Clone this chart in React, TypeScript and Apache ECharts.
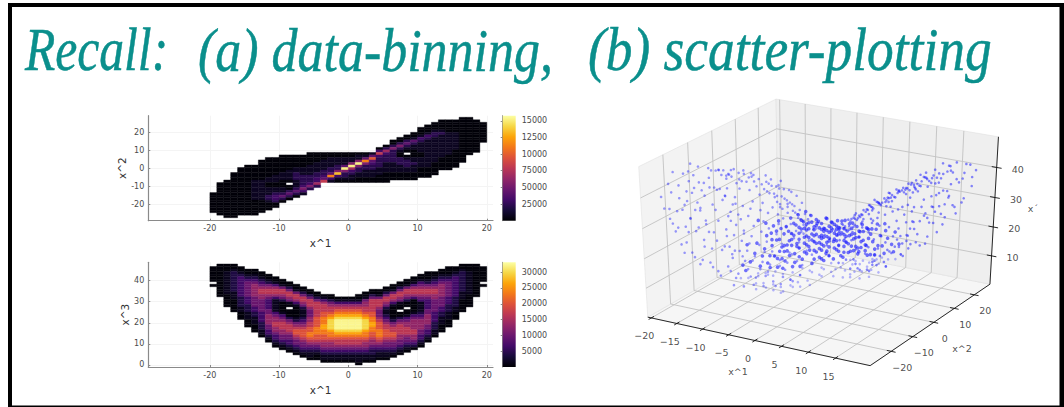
import React, { useEffect, useRef } from "react";
import * as echarts from "echarts";

const titleParts = ["Recall:", "(a) data-binning,", "(b) scatter-plotting"];
const infernoStops = ["#000004", "#160b39", "#420a68", "#6a176e", "#932667", "#bc3754", "#dd513a", "#f37819", "#fca50a", "#f6d746", "#fcffa4"];

// x^1 / x^2 histogram: one string per 1-wide x bin, read top row to bottom row. "." = empty bin.
const topFirstRow = [30, 26, 25, 22, 20, 19, 19, 17, 16, 16, 15, 15, 15, 15, 14, 14, 14, 14, 14, 14, 14, 14, 14, 14, 12, 11, 9, 8, 7, 6, 4, 3, 2, 1, 1, 1, 0, 0, 1, 2];
const topColumns = [
  "00000000", "0000000000000", "000000000000000", "000000000000000000", "0000000000000000000",
  "00000000000000000000", "00000011111111000000", "000000001111111100000", "000000001100111221000", "00000001110011233200",
  "0000000111000112420", "00000011110.002420", "00000112221112420", "0000011122223531", "000001111222352",
  "00001111223362", "000111122347", "001111224931", "00111225a310", "001114b52210",
  "00115b632110", "0115b5221100", "014952211100", "148432211100", "03732222111000",
  "026322211110000", "0025222221111000", "00252100222111000", "0024210.0122211000", "0014211000112111000",
  "00013211110011110000", "000132111111111110000", "000122111111111100000", "00001211111111100000", "00000111111111000000",
  "0000011111110000000", "000000000000000000", "000000000000000", "0000000000000", "00000000",
];
const topLevels: Record<string, number> = { "0": 1500, "1": 9000, "2": 23000, "3": 31000, "4": 42000, "5": 55000, "6": 68000, "7": 81000, "8": 97000, "9": 113000, a: 134000, b: 152000 };

// x^1 / x^3 histogram
const bottomFirstRow = [1, 0, 0, 0, 1, 2, 2, 3, 4, 5, 6, 7, 8, 9, 10, 11, 12, 12, 13, 13, 13, 12, 11, 10, 10, 9, 8, 7, 6, 5, 4, 3, 3, 2, 1, 1, 0, 0, 0, 1];
const bottomColumns = [
  "000000.0", "0000000000000", "00011111111100000", "0012222222211100000", "001233333333222211000",
  "00123444444333222111000", "0012345555544443322111000", "00123456655444443333222110", "001245665433334455554433210", "0013566531111134556655433210",
  "0014665420000134566655443210", "0024665410.00024566654433210", "0014665310000124567765443210", "0024665421112345677765443210", "0024666544455667788765432110",
  "002466666677778887765432100", "013566677888998877655432110", "0024566789aaaa9887655432110", "01356789abbbba987665432110", "01356789abbbba987665432110",
  "01356789abbbba987665432110", "001356789abbbba9876654321110", "00145566789aaaa9887655432110", "00246666677889988776554322110", "0014666544456777888765432110",
  "00246654211234566777654432110", "00146653100001245667765443210", "00246654100.00245666655443210", "00146654200.00134556665443210", "00135665300000134555566554320",
  "00134566543111123455554433210", "0001245665433334455554433210", "00123456655444443333222110", "0012345555544443322111000", "000123444444333222111000",
  "001233333333222211000", "0012222222211100000", "00011111111100000", "0000000000000", "000000.0",
];
const bottomLevels: Record<string, number> = { "0": 350, "1": 1650, "2": 4000, "3": 6600, "4": 9900, "5": 13200, "6": 16500, "7": 19900, "8": 23200, "9": 26500, a: 29800, b: 32400 };

const xTicks = [-20, -10, 0, 10, 20];
const topYTicks = [-20, -10, 0, 10, 20];
const bottomYTicks = [0, 10, 20, 30, 40];
const topBarTicks = [25000, 50000, 75000, 100000, 125000, 150000];
const topBarLabels = ["25000", "50000", "75000", "10000", "12500", "15000"];
const bottomBarTicks = [5000, 10000, 15000, 20000, 25000, 30000];

// Scatter samples (x^1, x^2, x^3), flat triples.
const leftLobePoints = [
  -15,-14,42,-16,-12,44,-14,-16,40,-17,-16,43,-13,-9,41,-16,-18,40,-15,-10,43,-12,-7,39,-14,-11,42,-18,-20,41,-17,-22,38,-16,-23,35,-15,-22,32,-14,-21,29,-16,-21,37,-13,-19,27,-12,-18,24,-11,-17,22,-10,-15,20,-9,-14,18,
  -13,-20,30,-15,-19,36,-12,-5,38,-11,-3,36,-10,-2,35,-9,0,33,-8,1,32,-7,1,31,-6,2,29,-5,1,27,-4,1,25,-3,0,24,-2,1,23,-2,-2,17,-3,-4,14,-4,-7,12,-6,-11,11,-7,-13,11,-9,-16,13,-11,-20,15,-13,-22,19,
  -15,-24,25,-17,-25,31,-18,-24,35,-14,-24,22,-12,-21,18,-10,-18,16,-8,-14,14,-6,-9,14,-4,-5,17,-3,-3,20,-4,-2,23,-5,-2,25,-7,-1,29,-8,-1,31,-10,-4,34,-12,-8,37,-13,-11,38,-14,-13,38,-15,-16,37,-15,-18,33,
  -14,-18,30,-13,-17,26,-11,-15,21,-10,-13,19,-8,-11,17,-6,-8,18,-5,-6,20,-4,-4,23,-5,-4,25,-6,-3,27,-7,-3,28,-9,-5,32,-10,-7,33,-12,-10,35,-13,-13,35,-14,-15,34,-13,-15,29,-12,-14,26,-11,-13,24,-10,-12,22,
  -8,-9,20,-7,-8,21,-6,-6,23,-6,-5,26,-8,-5,29,-9,-6,30,-11,-9,32,-12,-11,33,-12,-13,30,-11,-12,27,-10,-11,25,-9,-10,23,-8,-8,24,-7,-7,25,-8,-7,27,-10,-9,29,-11,-11,30,-17,-14,45,-16,-9,42,-15,-6,40,
  -18,-18,44,-19,-22,42,-19,-25,39,-18,-26,36,-17,-24,28,-16,-24,24,-14,-23,20,-12,-20,16,-9,-17,12,-7,-14,9,-5,-10,9,-4,-8,10,-2,-4,13,-1,-2,16,-1,-1,20,-1,0,24,-3,2,27,-5,3,30,-7,3,33,-9,2,35,
  -11,1,38,-13,-4,41,-14,-7,42,-12,-2,39,-10,-8,31,-13,-16,33,-15,-20,34,-11,-16,25,-9,-12,19,-7,-10,15,-5,-7,15,-4,-3,21,-6,-1,28,-8,-3,30,-16,-16,41,-17,-19,39,-13,-12,36,-12,-12,31,-16,-20,31,-15,-23,28,
  -13,-21,23,-10,-16,18,-8,-12,16,-6,-10,12,-4,-6,14,-3,-1,22,-6,0,31,-9,-2,34,-11,-6,36,-14,-9,40,-16,-15,38,-19,-20,45,-18,-15,46,
  -14,-12,44,-12,-8,40,-13,-7,38,-16,-14,40,-15,-12,38,-17,-18,45,-16,-20,43,-18,-23,40,-17,-20,35,-18,-21,33,-16,-22,29,-15,-20,27,-14,-19,24,-13,-18,21,-12,-16,20,-11,-14,18,-10,-17,14,-9,-13,16,-8,-13,11,-7,-11,13,
  -10,-1,37,-9,-3,35,-8,-2,33,-7,-2,30,-6,-1,30,-5,0,28,-4,0,26,-3,-1,25,-3,-2,23,-2,-1,20,-3,-3,18,-4,-4,16,-5,-7,13,-6,-7,16,-7,-9,18,-9,-11,21,-10,-11,24,-11,-10,28,-9,-9,26,-12,-12,28,
  -14,-20,35,-15,-21,40,-13,-14,39,-12,-14,37,-11,-12,34,-16,-25,30,-17,-26,33,-15,-25,22,-13,-23,18,-11,-19,13,-9,-18,10,-8,-16,9,-6,-12,8,-5,-9,7,-4,-9,8,-3,-7,9,-3,-6,8,-2,-5,10,-13,-8,43,-11,-5,40,
  -13,-6,41,-12,-4,39,-11,-2,38,-10,0,36,-9,1,35,-8,2,34,-8,-1,33,-7,0,32,-9,-1,36,-10,-3,37,-11,-4,38,-12,-6,41,-6,1,30,-7,-2,31,-6,-1,31,-5,-1,29,-5,2,28,-4,2,27,-4,-1,27,-3,1,26,-10,1,37,-9,3,36,-8,0,35,-7,2,34,-6,3,32,-12,-3,40,-13,-10,42,-15,-13,44,-14,-9,41,-15,-8,42,
];
const rightLobePoints = [
  15,14,41,16,12,44,14,16,39,17,17,42,13,9,40,16,18,41,15,10,42,12,7,38,14,12,41,18,21,40,17,23,37,16,24,35,15,22,31,14,20,28,16,20,36,13,19,28,12,18,25,11,16,21,10,15,19,9,13,18,
  13,21,31,15,19,34,12,4,37,11,2,36,10,3,35,9,1,34,8,-1,32,7,-1,30,6,-2,28,5,-1,26,4,-1,24,3,0,23,2,-1,22,2,3,18,3,4,13,4,6,11,6,10,11,7,12,10,9,15,12,11,19,14,13,22,18,
  15,25,26,17,24,30,18,25,34,14,23,23,12,20,17,10,17,15,8,13,13,6,10,13,4,6,16,3,4,19,4,1,22,5,2,24,7,1,28,8,2,31,10,5,33,12,9,36,13,10,39,14,14,37,15,15,38,15,17,34,
  14,17,29,13,16,27,11,14,22,10,12,20,8,10,18,6,7,17,5,5,21,4,3,24,5,3,26,6,4,27,7,2,29,9,4,31,10,6,34,12,11,34,13,12,36,14,16,33,13,14,30,12,13,25,11,12,25,10,11,23,
  8,8,21,7,7,20,6,7,22,6,4,25,8,4,28,9,7,29,11,8,31,12,10,32,12,12,29,11,11,28,10,10,26,9,9,24,8,7,25,7,6,26,8,6,28,10,8,30,11,10,31,17,13,46,16,8,43,15,5,41,
  18,17,45,19,21,43,19,24,40,18,25,37,17,23,29,16,23,25,14,22,21,12,19,15,9,16,11,7,13,8,5,9,8,4,7,9,2,3,12,1,1,15,1,0,19,1,-1,23,3,-2,26,5,-3,29,7,-2,32,9,-1,34,
  11,-1,37,13,3,40,14,6,41,12,1,38,10,7,32,13,15,32,15,21,33,11,15,24,9,11,20,7,9,16,5,8,14,4,4,20,6,0,27,8,3,29,16,15,40,17,20,38,13,11,37,12,13,30,16,19,32,15,24,27,
  13,20,22,10,15,17,8,11,15,6,9,11,4,5,13,3,1,21,6,-1,30,9,1,33,11,5,35,14,8,39,16,14,39,19,19,44,18,14,45,
  9,3,35,10,4,36,10,5,35,11,5,37,11,6,36,12,6,38,12,8,37,13,7,39,13,8,38,14,9,40,14,10,39,15,11,41,15,12,40,16,13,41,16,14,42,8,3,33,8,2,34,9,2,36,7,2,32,7,3,31,
  6,1,31,6,2,29,5,0,29,5,1,28,4,0,27,4,1,26,3,-1,25,3,1,24,10,6,37,11,7,38,12,10,39,13,13,41,14,13,42,15,13,39,16,16,41,17,16,44,17,18,41,15,8,40,14,7,38,13,5,40,
  12,16,24,13,17,25,14,18,27,14,21,25,15,20,29,11,13,20,10,13,17,9,12,16,12,15,20,13,18,23,9,14,15,8,12,14,7,10,13,6,9,10,11,17,16,10,16,14,6,11,9,5,10,7,4,8,8,3,6,9,
  8,4,32,9,5,33,9,4,34,10,7,35,11,8,37,12,9,38,13,11,40,14,11,40,8,1,33,7,1,31,7,0,31,6,0,30,6,3,29,5,3,28,5,-2,27,4,-2,26,10,2,35,11,3,37,12,5,38,13,6,39,11,4,38,9,0,35,10,1,36,
];
const centrePoints = [
  0,0,19,1,1,18,-1,-1,20,0,1,21,1,0,17,-1,0,16,2,2,20,-2,-2,19,3,4,21,-3,-4,20,2,3,16,-2,-3,17,0,-1,22,0,2,15,1,2,23,-1,-2,23,4,5,20,-4,-5,21,3,3,18,-3,-3,18,
  5,7,22,-5,-7,22,4,6,17,-4,-6,18,6,8,21,-6,-8,20,5,5,16,-5,-5,17,2,1,21,-2,-1,21,3,2,23,-3,-2,24,1,3,19,-1,-3,18,0,0,14,0,0,24,1,-1,25,-1,1,26,2,4,14,-2,-4,15,
  3,5,15,-3,-5,14,4,3,22,-4,-3,22,5,6,19,-5,-6,19,6,6,18,-6,-7,16,7,10,20,-7,-9,19,6,10,15,-6,-10,15,5,9,13,-5,-8,13,4,7,14,-4,-7,15,3,6,12,-3,-6,11,2,5,11,-2,-5,10,
  1,2,12,-1,-2,13,1,4,9,-1,-4,8,0,1,10,0,-1,9,2,6,8,-2,-6,8,3,8,7,-3,-7,7,4,9,7,-4,-9,7,5,11,7,-5,-10,8,6,12,9,-6,-12,9,7,14,10,-7,-13,9,8,14,13,-8,-15,14,
  0,0,17,1,1,21,-1,-1,17,1,0,20,-1,0,22,2,1,18,-2,-1,18,2,2,17,-2,-2,16,3,3,20,-3,-3,21,3,4,19,-3,-4,19,4,4,18,-4,-4,19,4,5,16,-4,-5,16,5,6,17,-5,-6,15,5,7,19,
  -5,-7,18,6,9,18,-6,-9,17,7,9,17,-7,-10,17,8,11,19,-8,-11,18,7,11,16,-7,-11,14,8,13,16,-8,-13,16,9,14,16,-9,-14,15,6,8,14,-6,-9,13,7,12,13,-7,-12,12,2,3,24,-2,-3,25,
  1,2,26,-1,-2,27,3,1,25,-3,-1,26,0,-2,27,0,2,27,4,2,24,-4,-2,25,5,3,23,-5,-3,23,6,3,24,-6,-4,24,7,4,25,-7,-5,25,8,6,26,-8,-6,26,9,7,26,-9,-7,27,1,3,13,-1,-3,11,
  2,4,10,-2,-4,12,3,7,10,-3,-7,9,4,8,10,-4,-8,11,5,10,10,-5,-10,11,6,11,11,-6,-11,12,0,1,13,0,-1,15,1,1,15,-1,-1,14,1,0,22,-1,0,19,0,1,18,0,-1,18,1,1,20,-1,-1,22,
  2,2,22,-2,-2,22,3,3,16,-3,-3,15,2,3,18,-2,-3,20,4,6,20,-4,-6,20,3,5,18,-3,-5,17,5,8,17,-5,-8,16,6,7,20,-6,-8,22,7,8,23,-7,-8,23,8,10,22,-8,-10,21,9,12,21,-9,-12,21,
  0,0,26,1,0,28,-1,0,27,2,0,27,-2,0,28,0,1,24,0,-1,25,1,1,25,-1,-1,25,2,1,26,-2,-1,26,3,0,28,-3,0,29,3,2,27,-3,-2,27,4,1,28,-4,-1,28,4,3,26,-4,-3,26,5,2,27,
  -5,-2,27,5,4,25,-5,-4,25,6,4,26,-6,-5,27,2,2,25,-2,-2,24,3,3,24,-3,-3,23,1,2,24,-1,-2,21,2,3,22,-2,-3,22,4,4,22,-4,-4,23,5,5,23,-5,-5,23,6,6,24,-6,-6,24,7,6,24,
  -7,-6,23,1,1,23,-1,-1,24,0,0,22,0,0,21,0,1,23,0,-1,20,1,0,24,-1,0,25,2,2,24,-2,-2,26,3,3,22,-3,-3,25,4,4,24,-4,-4,21,5,5,21,-5,-5,19,6,7,23,-6,-6,21,2,1,23,-2,-1,24,
  4,7,16,3,6,15,2,5,13,5,8,15,6,10,13,7,11,12,6,9,12,5,7,12,4,6,12,-5,-9,12,-4,-8,13,-3,-6,13,-2,-5,13,-6,-10,11,-7,-12,11,-5,-10,6,-4,-8,5,-3,-6,6,-6,-11,7,-7,-13,7,
  4,8,5,3,6,6,5,10,5,6,12,6,7,13,8,2,5,6,1,3,7,-1,-3,6,-8,-14,11,-9,-15,11,8,15,10,9,15,12,0,0,11,1,2,9,-1,-2,10,0,0,8,3,6,7,-2,-5,6,5,9,9,-4,-9,5,
];

// View of the 3D frame
const x1Lim = [-20.7, 21.3];
const x2Lim = [-29.5, 28];
const x3Lim = [0, 50];
const x1Ticks = [-20, -15, -10, -5, 0, 5, 10, 15];
const x2Ticks = [-20, -10, 0, 10, 20];
const x3Ticks = [10, 20, 30, 40];

function project(a: number, b: number, c: number): [number, number] {
  const u = (a - x1Lim[0]) / (x1Lim[1] - x1Lim[0]) - 0.5;
  const v = (b - x2Lim[0]) / (x2Lim[1] - x2Lim[0]) - 0.5;
  const w = (c - x3Lim[0]) / (x3Lim[1] - x3Lim[0]) - 0.5;
  const xv = 0.866 * u + 0.5 * v;
  const yv = -0.25 * u + 0.433 * v + 0.866 * w;
  const d = 10 - (0.433 * u - 0.75 * v + 0.5 * w);
  return [821.5 + (2567 * xv) / d, 227.8 - (1719 * yv) / d];
}

function cellsFrom(first: number[], columns: string[], levels: Record<string, number>, yTop: number, yStep: number) {
  const out: number[][] = [];
  columns.forEach((col, i) => {
    col.split("").forEach((ch, k) => {
      if (ch === ".") return;
      const row = first[i] + k;
      out.push([-20 + i, yTop - yStep * (row + 1), -19 + i, yTop - yStep * row, levels[ch]]);
    });
  });
  return out;
}

function triples(list: number[], keep: (z: number) => boolean = () => true) {
  const out: [number, number][] = [];
  for (let i = 0; i + 2 < list.length; i += 3) if (keep(list[i + 2])) out.push(project(list[i], list[i + 1], list[i + 2]));
  return out;
}

const GREY = "#8a8a8a";
const TXT = "#4a4a4a";

function heatSeries(name: string, axisIndex: number, data: number[][], max: number) {
  return {
    name, type: "custom", xAxisIndex: axisIndex, yAxisIndex: axisIndex, clip: false, silent: true,
    encode: { x: [0, 2], y: [1, 3] }, data,
    renderItem: (_: any, api: any) => {
      const p0 = api.coord([api.value(0), api.value(3)]);
      const p1 = api.coord([api.value(2), api.value(1)]);
      const c = echarts.color.lerp(Math.min(1, api.value(4) / max), infernoStops);
      return {
        type: "rect",
        shape: { x: p0[0], y: p0[1], width: p1[0] - p0[0], height: p1[1] - p0[1] },
        style: { fill: c, stroke: c, lineWidth: 0.4 },
      };
    },
  };
}

function barSeries(name: string, axisIndex: number, max: number) {
  return {
    name, type: "custom", xAxisIndex: axisIndex, yAxisIndex: axisIndex, silent: true,
    encode: { x: [0, 2], y: [1, 3] }, data: [[0, 0, 1, max]],
    renderItem: (_: any, api: any) => {
      const p0 = api.coord([0, max]);
      const p1 = api.coord([1, 0]);
      return {
        type: "rect",
        shape: { x: p0[0], y: p0[1], width: p1[0] - p0[0], height: p1[1] - p0[1] },
        style: {
          fill: new echarts.graphic.LinearGradient(0, 1, 0, 0, infernoStops.map((color, i) => ({ offset: i / (infernoStops.length - 1), color }))),
        },
      };
    },
  };
}

function plotAxes(gridIndex: number, xmin: number, xmax: number, ymin: number, ymax: number, yTicks: number[], yName: string) {
  const line = { show: true, onZero: false, lineStyle: { color: GREY, width: 1.2 } };
  const tick = (vals: number[]) => ({ show: true, inside: true, length: 2, lineStyle: { color: GREY }, customValues: vals });
  const split = { show: true, lineStyle: { color: "#f4f4f4", width: 1 } };
  return {
    x: {
      type: "value", gridIndex, min: xmin, max: xmax, axisLine: line, axisTick: tick(xTicks), splitLine: split,
      axisLabel: { customValues: xTicks, color: TXT, fontSize: 8, fontFamily: "DejaVu Sans", margin: 4 },
      name: "x^1", nameLocation: "middle", nameGap: 17, nameTextStyle: { fontSize: 10.5, color: "#333", fontFamily: "DejaVu Sans" },
    },
    y: {
      type: "value", gridIndex, min: ymin, max: ymax, axisLine: line, axisTick: tick(yTicks), splitLine: split,
      axisLabel: { customValues: yTicks, color: TXT, fontSize: 8, fontFamily: "DejaVu Sans", margin: 4 },
      name: yName, nameLocation: "middle", nameGap: 17, nameTextStyle: { fontSize: 10.5, color: "#333", fontFamily: "DejaVu Sans" },
    },
  };
}

function barAxes(gridIndex: number, max: number, ticks: number[], fmt: (v: number) => string) {
  return {
    x: { type: "value", gridIndex, min: 0, max: 1, show: false },
    y: {
      type: "value", gridIndex, min: 0, max, position: "right",
      axisLine: { show: true, lineStyle: { color: GREY, width: 1 } },
      axisTick: { show: true, inside: true, length: 2, lineStyle: { color: GREY }, customValues: ticks },
      splitLine: { show: false },
      axisLabel: { customValues: ticks, formatter: fmt, color: TXT, fontSize: 8, fontFamily: "DejaVu Sans", margin: 6 },
    },
  };
}

function paths3d() {
  const paths: [number, number][][] = [];
  const [a0, a1] = x1Lim, [b0, b1] = x2Lim, [c0, c1] = x3Lim;
  x1Ticks.forEach((t) => paths.push([project(t, b0, c0), project(t, b1, c0), project(t, b1, c1)]));
  x2Ticks.forEach((t) => paths.push([project(a1, t, c0), project(a0, t, c0), project(a0, t, c1)]));
  x3Ticks.forEach((t) => paths.push([project(a0, b0, t), project(a0, b1, t), project(a1, b1, t)]));
  return paths;
}

function polySeries(name: string, type: string, polys: [number, number][][], style: any) {
  return {
    name, type: "custom", xAxisIndex: 4, yAxisIndex: 4, silent: true, clip: false,
    data: polys.map((_, i) => [i]),
    encode: { x: [], y: [] },
    renderItem: (params: any, api: any) => ({
      type,
      shape: { points: polys[params.dataIndex].map((p) => api.coord(p)) },
      style: typeof style === "function" ? style(params.dataIndex) : style,
    }),
  };
}

function labelSeries(name: string, data: any[], offset: number[]) {
  return {
    name, type: "scatter", xAxisIndex: 4, yAxisIndex: 4, symbolSize: 0, silent: true, data,
    label: {
      show: true, position: "inside", offset, formatter: (p: any) => p.data[2],
      fontSize: 9.5, color: "#222", fontFamily: "DejaVu Sans",
    },
  };
}

function dotSeries(name: string, data: [number, number][], symbolSize: number, opacity: number) {
  return {
    name, type: "scatter", xAxisIndex: 4, yAxisIndex: 4, silent: true, symbolSize, data,
    itemStyle: { color: "#1414ff", opacity },
  };
}

const minus = (v: number) => String(v).replace("-", "\u2212");

function titleText(text: string, x: number, scaleX: number) {
  return {
    type: "text", x, y: 18.5, scaleX,
    style: { text, font: 'italic 62px "Liberation Serif"', fill: "#0a8f8c", stroke: "#0a8f8c", lineWidth: 0.5 },
  };
}

export default function App() {
  const ref = useRef<HTMLDivElement>(null);
  useEffect(() => {
    document.body.style.margin = "0";
    const chart = echarts.init(ref.current!, undefined, { renderer: "svg" });
    const a0 = plotAxes(0, -28.9, 20.9, -29.1, 29.2, topYTicks, "x^2");
    const a1 = barAxes(1, 157600, topBarTicks, (v) => topBarLabels[topBarTicks.indexOf(v)] ?? "");
    const a2 = plotAxes(2, -28.9, 20.9, -0.95, 48.7, bottomYTicks, "x^3");
    const a3 = barAxes(3, 33130, bottomBarTicks, (v) => String(v));
    const [l0, l1] = x1Lim, [m0, m1] = x2Lim, [n0, n1] = x3Lim;
    const walls: [number, number][][] = [
      [project(l0, m0, n0), project(l1, m0, n0), project(l1, m1, n0), project(l0, m1, n0)],
      [project(l0, m0, n0), project(l0, m1, n0), project(l0, m1, n1), project(l0, m0, n1)],
      [project(l0, m1, n0), project(l1, m1, n0), project(l1, m1, n1), project(l0, m1, n1)],
    ];
    const wallFills = ["#f6f6f6", "#f3f3f3", "#efefef"];
    const edges: [number, number][][] = [
      [project(l0, m0, n0), project(l1, m0, n0), project(l1, m1, n0), project(l1, m1, n1)],
      ...x1Ticks.map((t) => [project(t, m0 - 1.1, n0), project(t, m0 + 1.1, n0)] as [number, number][]),
      ...x2Ticks.map((t) => [project(l1 + 0.8, t, n0), project(l1 - 0.8, t, n0)] as [number, number][]),
      ...x3Ticks.map((t) => [project(l1 + 0.9, m1, t), project(l1 - 0.9, m1, t)] as [number, number][]),
    ];
    chart.setOption({
      animation: false,
      backgroundColor: "#fff",
      graphic: [
        { type: "rect", shape: { x: 8, y: 3, width: 1056, height: 4 }, style: { fill: "#000" } },
        { type: "rect", shape: { x: 8, y: 3, width: 4, height: 404 }, style: { fill: "#000" } },
        { type: "rect", shape: { x: 1059.5, y: 3, width: 4.5, height: 404 }, style: { fill: "#000" } },
        { type: "rect", shape: { x: 8, y: 405.5, width: 1056, height: 1.5 }, style: { fill: "#000" } },
        titleText(titleParts[0], 25, 0.8),
        titleText(titleParts[1], 198, 0.8375),
        titleText(titleParts[2], 588, 0.861),
      ],
      grid: [
        { left: 148.3, top: 115.7, width: 344.7, height: 105 },
        { left: 502.7, top: 115.7, width: 13, height: 105 },
        { left: 148.3, top: 262.3, width: 344.7, height: 104.7 },
        { left: 502.7, top: 262.3, width: 13, height: 104.7 },
        { left: 0, top: 0, width: 1064, height: 407 },
      ],
      xAxis: [a0.x, a1.x, a2.x, a3.x, { type: "value", gridIndex: 4, min: 0, max: 1064, show: false }],
      yAxis: [a0.y, a1.y, a2.y, a3.y, { type: "value", gridIndex: 4, min: 0, max: 407, inverse: true, show: false }],
      series: [
        heatSeries("x1 x2", 0, cellsFrom(topFirstRow, topColumns, topLevels, 28.33, 1.394), 157600),
        barSeries("bar top", 1, 157600),
        heatSeries("x1 x3", 2, cellsFrom(bottomFirstRow, bottomColumns, bottomLevels, 47.9, 1.1976), 33130),
        barSeries("bar bottom", 3, 33130),
        polySeries("walls", "polygon", walls, (i: number) => ({ fill: wallFills[i], stroke: "#dcdcdc", lineWidth: 0.5 })),
        polySeries("grid3d", "polyline", paths3d(), { fill: "none", stroke: "#c2c2c2", lineWidth: 0.9 }),
        dotSeries("left lobe", triples(leftLobePoints), 2.6, 0.42),
        dotSeries("right lobe", triples(rightLobePoints), 2.6, 0.5),
        dotSeries("centre low", triples(centrePoints, (z) => z < 13), 2.6, 0.3),
        dotSeries("centre", triples(centrePoints, (z) => z >= 13), 3.6, 0.6),
        polySeries("edges", "polyline", edges, { fill: "none", stroke: "#111", lineWidth: 0.9 }),
        labelSeries("x1 ticks", x1Ticks.map((t) => [...project(t, m0, n0), minus(t)]), [-7, 18]),
        labelSeries("x2 ticks", x2Ticks.map((t) => [...project(l1, t, n0), minus(t)]), [11, 16]),
        labelSeries("x3 ticks", x3Ticks.map((t) => [...project(l1, m1, t), minus(t)]), [21, 2]),
        labelSeries("names", [[738, 371, "x^1"], [962, 348, "x^2"], [1033, 208, "x\u00b4"]], [0, 0]),
      ],
    });
    return () => chart.dispose();
  }, []);
  return <div ref={ref} style={{ width: 1064, height: 407 }} />;
}
